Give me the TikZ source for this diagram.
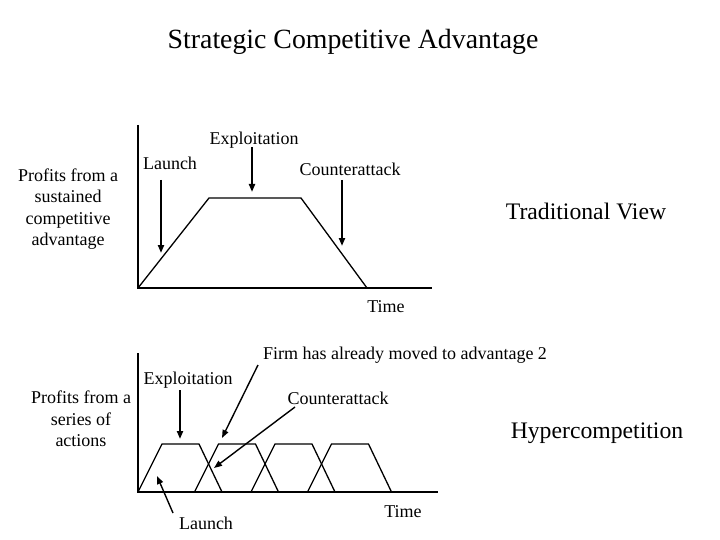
\documentclass[tikz,border=0pt]{standalone}
\usepackage{fontspec}
\setmainfont{Liberation Serif}
\usepackage{tikz}
\usetikzlibrary{arrows.meta}

\begin{document}
\begin{tikzpicture}[x=1pt,y=-1pt,
						curve/.style={line width=1.3pt,line join=miter},
						bigarrow/.style={line width=2pt,-{Triangle[length=8pt,width=6pt]}},
						smallarrow/.style={line width=1.4pt,-{Triangle[length=8pt,width=6pt]}},
						lbl/.style={font=\fontsize{18}{21.3}\selectfont,align=center,inner sep=0pt},
						big/.style={font=\fontsize{23.7}{28}\selectfont,inner sep=0pt}]
						\useasboundingbox (0,0) rectangle (720,540);
						\node[inner sep=0pt,font=\fontsize{27.8}{32}\selectfont] (title) at (353,42) {Strategic Competitive Advantage};
						\node[lbl] (sustained) at (68,209) {Profits from a\\sustained\\competitive\\advantage};
						\node[big] (trad) at (586,211) {Traditional View};
						\draw[curve] (138,125)--(138,288)--(432,288);
						\draw[curve] (138,288)--(209,198)--(301,198)--(367,288);
						\node[lbl] (launch1) at (170,163) {Launch};
						\node[lbl] (exploit1) at (254,140) {Exploitation};
						\node[lbl] (counter1) at (350,169) {Counterattack};
						\node[lbl] (time1) at (386,307) {Time};
						\coordinate (l1a) at (161,180);
						\coordinate (l1b) at (161,253);
						\coordinate (e1a) at (252,147);
						\coordinate (e1b) at (252,192);
						\coordinate (c1a) at (342,180);
						\coordinate (c1b) at (342,246);
						\draw[bigarrow] (l1a)--(l1b);
						\draw[bigarrow] (e1a)--(e1b);
						\draw[bigarrow] (c1a)--(c1b);
						\node[lbl] (series) at (81,419) {Profits from a\\series of\\actions};
						\node[big] (hyper) at (597,433) {Hypercompetition};
						\draw[curve] (138,353)--(138,492)--(438,492);
						\foreach \s in {138,194.5,251,307.5}
							\draw[curve] (\s,492)--++(24,-48)--++(37,0)--++(23,48);
						\node[lbl] (exploit2) at (188,380) {Exploitation};
						\node[lbl] (firm) at (405,355) {Firm has already moved to advantage 2};
						\node[lbl] (counter2) at (338,398) {Counterattack};
						\node[lbl] (time2) at (403,512) {Time};
						\node[lbl] (launch2) at (206,523) {Launch};
						\coordinate (e2a) at (180,390);
						\coordinate (e2b) at (180,439);
						\coordinate (f2a) at (258,365);
						\coordinate (f2b) at (222,438);
						\coordinate (c2a) at (295,407);
						\coordinate (c2b) at (214,468);
						\coordinate (l2a) at (173,513);
						\coordinate (l2b) at (157,476);
						\draw[bigarrow] (e2a)--(e2b);
						\draw[smallarrow] (f2a)--(f2b);
						\draw[smallarrow] (c2a)--(c2b);
						\draw[smallarrow] (l2a)--(l2b);
					\end{tikzpicture}
\end{document}
